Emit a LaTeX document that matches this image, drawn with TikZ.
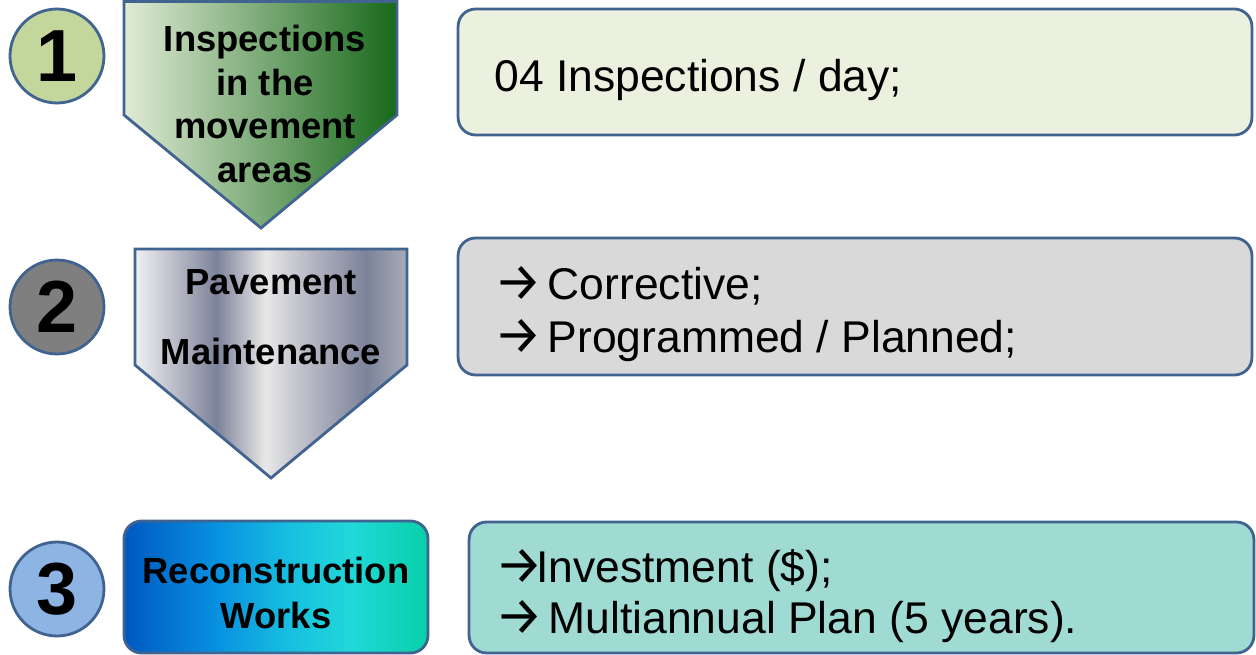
\documentclass[tikz,border=0pt]{standalone}
\usepackage{fontspec}
\setmainfont{Liberation Sans}
\newfontfamily\arrowfont{Fira Sans}[Scale=1.2]
\newcommand\rto{\makebox[8.2mm][l]{\raisebox{-0.3mm}{\arrowfont →}}}

\definecolor{edge}{RGB}{65,99,143}
\definecolor{dotgreen}{HTML}{C3D69B}
\definecolor{dotgray}{HTML}{7F7F7F}
\definecolor{dotblue}{HTML}{8EB4E3}
\definecolor{paleA}{HTML}{EBF0DF}
\definecolor{paleB}{HTML}{D9D9D9}
\definecolor{paleC}{HTML}{9FDBD2}
\definecolor{leafA}{HTML}{E0EBD5}
\definecolor{leafB}{HTML}{A8C37F}
\definecolor{leafC}{HTML}{17691A}
\definecolor{metalA}{HTML}{F0F0F2}
\definecolor{metalB}{HTML}{C4C6CE}
\definecolor{metalC}{HTML}{7C8299}
\definecolor{metalD}{HTML}{E8E8E8}
\definecolor{metalE}{HTML}{BCBEC8}
\definecolor{metalF}{HTML}{A8ABB8}
\definecolor{seaA}{HTML}{0058C0}
\definecolor{seaB}{HTML}{0890E0}
\definecolor{seaC}{HTML}{18C0E0}
\definecolor{seaD}{HTML}{20D8D8}
\definecolor{seaE}{HTML}{08D0A8}

\pgfdeclarehorizontalshading{metal}{100bp}{color(0bp)=(metalA); color(25bp)=(metalA);
  color(31bp)=(metalB); color(40bp)=(metalC); color(49bp)=(metalD); color(56bp)=(metalE);
  color(67.5bp)=(metalC); color(75bp)=(metalF); color(100bp)=(metalF)}
\pgfdeclarehorizontalshading{sea}{100bp}{color(0bp)=(seaA); color(25bp)=(seaA);
  color(40bp)=(seaB); color(52.5bp)=(seaC); color(62.5bp)=(seaD); color(75bp)=(seaE);
  color(100bp)=(seaE)}

\begin{document}
\begin{tikzpicture}[x=0.02cm,y=-0.02cm,
  numdot/.style={circle,draw=edge,line width=1.6pt,minimum size=18.8mm,inner sep=0pt,
    font=\fontsize{42}{42}\selectfont\bfseries},
  outline/.style={draw=edge,line width=1.6pt,line join=miter},
  infobox/.style={rectangle,rounded corners=3.5mm,draw=edge,line width=1.6pt,inner sep=0pt},
  infotext/.style={anchor=base west,inner sep=0pt,align=left,
    font=\fontsize{25.3}{30}\selectfont},
  headtext/.style={align=center,inner sep=0pt,font=\fontsize{20.7}{25}\selectfont\bfseries}]
\useasboundingbox (0,0) rectangle (1256,655);

% step numbers
\node[numdot,fill=dotgreen] (n1) at (57,56) {1};
\node[numdot,fill=dotgray] (n2) at (57,307) {2};
\node[numdot,fill=dotblue] (n3) at (57,589) {3};

% left side arrows and box
\shadedraw[outline,left color=leafA,middle color=leafB,right color=leafC]
  (124,1.5) -- (397,1.5) -- (397,115) -- (261,228) -- (124,115) -- cycle;
\node[headtext] (h1) at (265,104) {Inspections\\in the\\movement\\areas};

\shadedraw[outline,shading=metal]
  (135,249) -- (407,249) -- (407,365) -- (271,478) -- (135,365) -- cycle;
\node[headtext,font=\fontsize{20.7}{39.7}\selectfont\bfseries] (h2) at (271,317) {Pavement\\Maintenance};

\node[infobox,shading=sea,minimum width=60.8mm,minimum height=26.4mm] (b3) at (276,587) {};
\node[headtext,font=\fontsize{20.7}{25.5}\selectfont\bfseries] (h3) at (276,593) {Reconstruction\\Works};

% right side boxes
\node[infobox,fill=paleA,minimum width=158.8mm,minimum height=25.2mm] (r1) at (855,72) {};
\node[infobox,fill=paleB,minimum width=158.8mm,minimum height=27.4mm] (r2) at (855,306.5) {};
\node[infobox,fill=paleC,minimum width=157mm,minimum height=26.2mm] (r3) at (861.5,587.5) {};

\node[infotext] (t1) at (494,92) {04 Inspections / day;};
\node[infotext] (t2) at (494,352) {\rto{} Corrective;\\\rto{} Programmed / Planned;};
\node[infotext,font=\fontsize{25.3}{29}\selectfont] (t3) at (495,633) {\rto{}Investment (\$);\\\rto{} Multiannual Plan (5 years).};
\end{tikzpicture}
\end{document}
